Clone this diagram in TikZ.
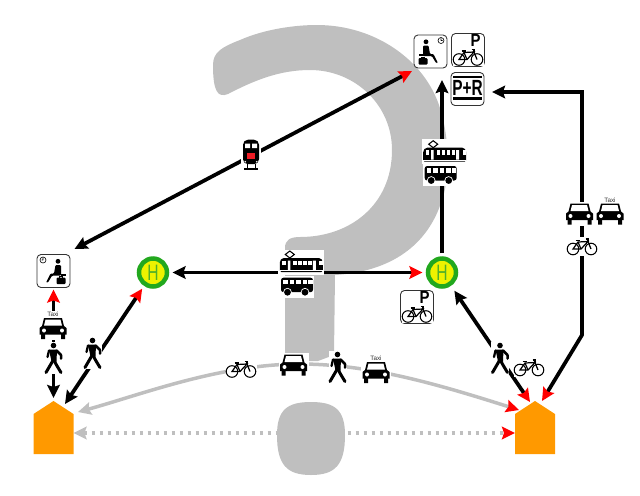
\documentclass[tikz,border=0pt]{standalone}
\usepackage{fontspec}
\setmainfont{Liberation Sans}
\usetikzlibrary{arrows.meta}
\definecolor{roadgrey}{HTML}{BFBFBF}
\definecolor{homeorange}{HTML}{FF9900}
\definecolor{haltgreen}{HTML}{22A81E}
\definecolor{haltyellow}{HTML}{EEF200}
\definecolor{letgreen}{HTML}{4FB02A}
\definecolor{dbred}{HTML}{EE1C25}
\newcommand{\haltletter}{\scalebox{.7}[1]{H}}
\tikzset{
  blacktip/.tip={Stealth[length=.26cm,width=.25cm,inset=.04cm]},
  redtip/.tip={Stealth[length=.26cm,width=.25cm,inset=.04cm,color=red]},
  link/.style={line width=.075cm},
  greylink/.style={line width=.07cm, roadgrey},
  iconbox/.style={draw=black!80, line width=.5pt, rounded corners=.08cm, minimum size=.66cm, inner sep=0pt, outer sep=0pt, fill=white},
  halt/.style={circle, draw=haltgreen, fill=haltyellow, line width=.09cm, minimum size=.56cm, inner sep=0pt, outer sep=.11cm, text=letgreen, font=\fontsize{12.7}{13}\selectfont},
  home/.style={minimum width=.8cm, minimum height=1.06cm, inner sep=0pt, outer sep=0pt},
  taxilabel/.style={font=\fontsize{3.6}{4}\selectfont, text=black!80, inner sep=0pt},
  parklabel/.style={font=\bfseries\fontsize{10}{11}\selectfont, inner sep=0pt},
  ridelabel/.style={font=\bfseries\fontsize{12.5}{13}\selectfont},
  house/.pic={
    \fill[homeorange] (-20,26.5) -- (-20,-13.5) -- (0,-26.5) -- (20,-13.5) -- (20,26.5) -- cycle;
  },
  car/.pic={
    \fill[white] (-15,-12) rectangle (15,12);
    \fill (-9,-10) -- (9,-10) -- (11,-2) -- (13.5,0) -- (13.5,6.5) -- (-13.5,6.5) -- (-13.5,0) -- (-11,-2) -- cycle;
    \fill[white] (-7.5,-8.5) -- (7.5,-8.5) -- (9,-2.5) -- (-9,-2.5) -- cycle;
    \fill (-12,6) rectangle (-8,11) (8,6) rectangle (12,11);
    \fill[white] (-9,2.5) circle (2) (9,2.5) circle (2);
  },
  taxi/.pic={
    \pic {car};
    \fill[white] (-8,-17) rectangle (8,-11);
    \node[taxilabel] (-label) at (0,-13.5) {Taxi};
  },
  bike/.pic={
    \fill[white] (-15.5,-9) rectangle (15.5,9.5);
    \draw[line width=.6pt] (-9,3) circle (5.8) (9,3) circle (5.8);
    \draw[line width=.7pt] (-9,3) -- (-1,3) -- (6,-4.5) -- (-4,-4) -- cycle;
    \draw[line width=.7pt] (-4,-4) -- (-1,3) (6,-4.5) -- (9,3);
    \draw[line width=.9pt] (-6.5,-5.5) -- (-2,-5.5) (3.5,-7) -- (6,-7) -- (6,-4.5);
  },
  walker/.pic={
    \fill[white] (-9,-16) rectangle (9,16);
    \fill (0,-12.5) circle (2.8);
    \fill (-4.5,-8.5) -- (3.5,-8.5) -- (3,3.5) -- (-2,3.5) -- cycle;
    \draw[line width=.05cm, line cap=round, line join=round] (3,-7.5) -- (7.5,-3) -- (7.5,.5);
    \draw[line width=.045cm, line cap=round] (-4.5,-7.5) -- (-6,-1);
    \draw[line width=.06cm, line cap=round] (-.5,2.5) -- (-7.5,14.5);
    \draw[line width=.06cm, line cap=round, line join=round] (.5,2.5) -- (3,7) -- (7.5,14.5);
  },
  tram/.pic={
    \fill[white] (-23,-12.5) rectangle (23,12.5);
    \draw[line width=.6pt] (-11.5,-11) -- (-16,-7.5) -- (-11.5,-4) -- (-7,-7.5) -- cycle;
    \fill[rounded corners=.03cm] (-21.5,10) -- (-21.5,-1) -- (-19,-4) -- (19,-4) -- (21.5,-1) -- (21.5,10) -- cycle;
    \foreach \winx in {-19,-8,-3,2,7,18}
      \fill[white] (\winx,-1.5) rectangle +(3.5,4.5);
    \fill[white] (-13.5,-1.5) rectangle (-11,8) (11.5,-1.5) rectangle (14.5,8);
    \draw[white, line width=.3pt] (-21.5,8.5) -- (21.5,8.5);
  },
  bus/.pic={
    \fill[white] (-18,-11) rectangle (17,11);
    \fill[rounded corners=.05cm] (-16,-9) rectangle (16,5.5);
    \foreach \winx in {-14,-7.5,-1,5.5,11}
      \fill[white] (\winx,-7) rectangle +(4.5,4.5);
    \foreach \whlx in {-9.5,8}{
      \fill[white] (\whlx,5.5) circle (4.3);
      \fill (\whlx,5.5) circle (3.4);
    }
  },
  train/.pic={
    \fill[white] (-10,-16.5) rectangle (10,16);
    \fill[rounded corners=.1cm] (-8,9.5) -- (-8,-15) -- (8,-15) -- (8,9.5) -- cycle;
    \fill[white] (-6,-11) rectangle (-1,-6.5) (1,-11) rectangle (6,-6.5);
    \fill[dbred] (-3.6,-1.5) rectangle (3.6,4.5);
    \fill[white] (-5.8,7) circle (.9) (5.8,7) circle (.9);
    \draw[line width=.5pt] (-4,9.5) -- (-4,14) (4,9.5) -- (4,14);
    \draw[line width=.8pt] (-7,14.3) -- (7,14.3);
  },
  waiting/.pic={
    \fill (-4.5,-9.7) circle (2.4);
    \fill[rounded corners=.02cm] (-7.5,-6) -- (-2,-6) -- (-.5,2.5) -- (3,2.5) -- (7.5,11.5) -- (5.5,11.5) -- (1.5,4.7) -- (-7.5,4.7) -- cycle;
    \fill (-12,2.7) rectangle (-7,4.7);
    \fill[rounded corners=.02cm] (-12,6.5) rectangle (-3,13);
    \draw[line width=.4pt] (-9,6.5) -- (-9,5.5) -- (-6,5.5) -- (-6,6.5);
    \draw[line width=.35pt] (10.5,-11) circle (3) (10.5,-11) -- (10.5,-13) (10.5,-11) -- (12,-11);
  },
  bikepark/.pic={
    \pic at (0,6.5) {bike};
    \node[parklabel] (-letter) at (7.5,-9.5) {\scalebox{.85}[1]{P}};
  },
  ridebars/.pic={
    \fill (-14.5,-13.5) rectangle (14.5,-11);
    \fill (-14.5,8) rectangle (14.5,10.5);
  },
}
\begin{document}
\begin{tikzpicture}[x=.02cm, y=-.02cm]
  \useasboundingbox (0,0) rectangle (640,495);

  \fill[roadgrey] (213,65)
    .. controls (213,52) and (222,47) .. (240,40)
    .. controls (265,29) and (295,25) .. (317,25)
    .. controls (375,25) and (425,60) .. (440,108)
    .. controls (450,140) and (450,180) .. (441,203)
    .. controls (425,250) and (385,272) .. (335,275)
    -- (334,355) -- (318,361) -- (285,361) -- (285,248)
    .. controls (285,240) and (290,237) .. (300,237)
    .. controls (350,237) and (392,205) .. (392,150)
    .. controls (392,105) and (355,70) .. (310,70)
    .. controls (280,70) and (255,80) .. (228,94)
    .. controls (218,98) and (213,92) .. (213,65) -- cycle;
  \fill[roadgrey] (311,402)
    .. controls (335,402) and (345,410) .. (345,435)
    .. controls (345,465) and (335,475) .. (311,475)
    .. controls (287,475) and (277,465) .. (277,435)
    .. controls (277,410) and (287,402) .. (311,402) -- cycle;

  \node[home] (homeL) at (53.5,427.5) {};
  \node[home] (homeR) at (535,427.5) {};
  \pic (houseL) at (homeL) {house};
  \pic (houseR) at (homeR) {house};

  \node[iconbox] (waitL) at (53.5,271) {};
  \node[iconbox] (waitR) at (430.5,51.5) {};
  \node[iconbox] (bikeparkT) at (468,50) {};
  \node[iconbox] (bikeparkH) at (417,307) {};
  \node[iconbox, ridelabel] (parkride) at (467.5,89) {\raisebox{.03cm}{\scalebox{.7}[1]{P+R}}};
  \node[halt] (haltL) at (153,272.5) {\haltletter};
  \node[halt] (haltR) at (442,272.5) {\haltletter};
  \coordinate (bendR) at (582,335);
  \coordinate (cornerR) at (582,92);
  \coordinate (archtop) at (300,364);

  \draw[link, {blacktip}-{redtip}] ([shift={(4.5,-5.5)}]waitL.north east) -- ([shift={(-2,3)}]waitR.south west);
  \draw[link, {blacktip}-{redtip}] (haltL) -- (haltR);
  \draw[link, -{blacktip}, shorten >=.24cm] (haltR) -- (haltR |- waitR.south);
  \draw[link, {redtip}-{blacktip}] ([shift={(7,0)}]homeR.north) -- (bendR) -- (cornerR) -- ([shift={(8,3)}]parkride.east);
  \draw[link, {blacktip}-{redtip}, shorten <=.06cm, shorten >=.04cm] (homeL.north) -- (waitL.south);
  \draw[link, {blacktip}-{redtip}] ([shift={(11.5,3)}]homeL.north) -- (haltL);
  \draw[link, {redtip}-{blacktip}, shorten >=.05cm] ([shift={(-5,1)}]homeR.north) -- (haltR);
  \draw[greylink, {blacktip}-{redtip}] ([shift={(4.5,11)}]homeL.north east)
    .. controls (140,395) and (220,364) .. (archtop)
    .. controls (370,364) and (440,385) .. ([shift={(4,9)}]homeR.north west);
  \draw[greylink, dash pattern=on .07cm off .09cm, {blacktip}-{redtip}] ([shift={(0,5.5)}]homeL.east) -- ([shift={(0,5.5)}]homeR.west);

  \pic (waitLfig) at (waitL) [xscale=-1] {waiting};
  \pic (waitRfig) at (waitR) {waiting};
  \pic (bikeparkTfig) at (bikeparkT) {bikepark};
  \pic (bikeparkHfig) at (bikeparkH) {bikepark};
  \pic (ridefig) at (parkride) {ridebars};

  \pic (trainA) at (251,154.7) {train};
  \pic (tramA) at (301.3,262) {tram};
  \pic (busA) at (297,286.7) {bus};
  \pic (tramB) at (444.7,151.7) {tram};
  \pic (busB) at (440.7,175) {bus};
  \pic (walkerA) at (53.5,358) {walker};
  \pic (walkerB) at (92.5,353) {walker};
  \pic (walkerC) at (500,358) {walker};
  \pic (walkerD) at (337.5,367) {walker};
  \pic (taxiA) at (53,328) {taxi};
  \pic (taxiB) at (610,213.5) {taxi};
  \pic (taxiC) at (376,372) {taxi};
  \pic (carA) at (579.5,213.5) {car};
  \pic (carB) at (293.5,364.5) {car};
  \pic (bikeA) at (582,246) {bike};
  \pic (bikeB) at (529,367) {bike};
  \pic (bikeC) at (241,368.5) {bike};
\end{tikzpicture}
\end{document}
